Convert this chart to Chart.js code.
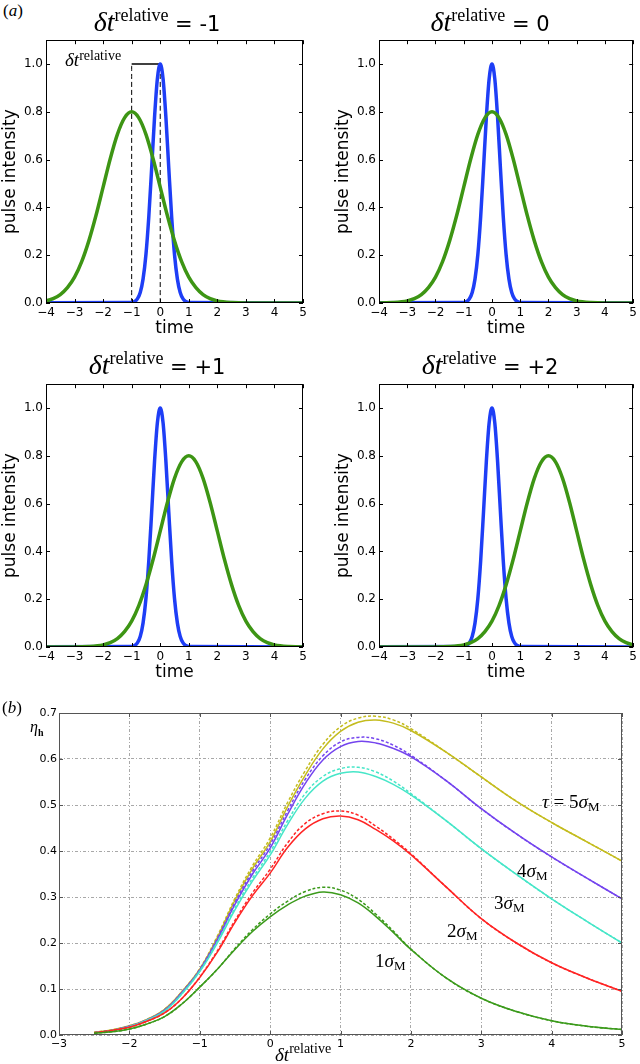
<!DOCTYPE html>
<html>
<head>
<meta charset="utf-8">
<title>Pulse overlap</title>
<script src="https://cdn.jsdelivr.net/npm/chart.js@4.4.1/dist/chart.umd.min.js"></script>
<style>
  html, body { margin: 0; padding: 0; background: #fff; overflow: hidden; }
  #page { position: relative; width: 640px; height: 1064px; }
  #page canvas { position: absolute; }
  .lbl { position: absolute; white-space: nowrap; line-height: 1; color: #000; font-family: "Liberation Serif", serif; }
  .up { position: relative; }
  .sans { font-family: "DejaVu Sans", sans-serif; }
  .ctr { transform: translateX(-50%); }
</style>
</head>
<body>
<div id="page">
  <canvas id="p1" width="320" height="310" style="left:0;top:30px"></canvas>
  <canvas id="p2" width="307" height="310" style="left:333px;top:30px"></canvas>
  <canvas id="p3" width="320" height="310" style="left:0;top:374px"></canvas>
  <canvas id="p4" width="307" height="310" style="left:333px;top:374px"></canvas>
  <canvas id="pb" width="640" height="364" style="left:0;top:700px"></canvas>

  <div class="lbl" style="left:3px;top:2px;font-size:17px">(<i>a</i>)</div>
  <div class="lbl ctr" style="left:157px;top:8px;font-size:28px"><i>δt</i><span class="up" style="font-size:18px;top:-10px">relative</span><span class="sans" style="font-size:21px"> = -1</span></div>
  <div class="lbl ctr" style="left:490px;top:8px;font-size:28px"><i>δt</i><span class="up" style="font-size:18px;top:-10px">relative</span><span class="sans" style="font-size:21px"> = 0</span></div>
  <div class="lbl ctr" style="left:157px;top:351px;font-size:28px"><i>δt</i><span class="up" style="font-size:18px;top:-10px">relative</span><span class="sans" style="font-size:21px"> = +1</span></div>
  <div class="lbl ctr" style="left:490px;top:351px;font-size:28px"><i>δt</i><span class="up" style="font-size:18px;top:-10px">relative</span><span class="sans" style="font-size:21px"> = +2</span></div>
  <div class="lbl" style="left:65px;top:50px;font-size:19px"><i>δt</i><span class="up" style="font-size:14px;top:-6px">relative</span></div>

  <div class="lbl" style="left:2px;top:699px;font-size:17px">(<i>b</i>)</div>
  <div class="lbl" style="left:30px;top:719px;font-size:16px"><i>η</i><span class="up" style="font-size:10px;top:4px;font-weight:bold">h</span></div>
  <div class="lbl" style="left:275px;top:1045px;font-size:19px"><i>δt</i><span class="up" style="font-size:14px;top:-8px">relative</span></div>
  <div class="lbl" style="left:542px;top:792px;font-size:19px"><i>τ</i> = 5<i>σ</i><span class="up" style="font-size:13px;top:3px">M</span></div>
  <div class="lbl" style="left:517px;top:861px;font-size:19px">4<i>σ</i><span class="up" style="font-size:13px;top:3px">M</span></div>
  <div class="lbl" style="left:494px;top:893px;font-size:19px">3<i>σ</i><span class="up" style="font-size:13px;top:3px">M</span></div>
  <div class="lbl" style="left:447px;top:921px;font-size:19px">2<i>σ</i><span class="up" style="font-size:13px;top:3px">M</span></div>
  <div class="lbl" style="left:375px;top:951px;font-size:19px">1<i>σ</i><span class="up" style="font-size:13px;top:3px">M</span></div>
</div>

<script>
const blueCentre = 0;
const greenCentres = [-1, 0, 1, 2];
const blueOffsets = [-6, -1, -0.9, -0.8, -0.7, -0.6, -0.5, -0.4, -0.3, -0.2, -0.1, 0, 0.1, 0.2, 0.3, 0.4, 0.5, 0.6, 0.7, 0.8, 0.9, 1, 6];
const blueValues = [0, 0.002, 0.006, 0.017, 0.044, 0.101, 0.203, 0.361, 0.564, 0.775, 0.938, 1.0, 0.938, 0.775, 0.564, 0.361, 0.203, 0.101, 0.044, 0.017, 0.006, 0.002, 0];
const greenOffsets = [-8, -4, -3.5, -3, -2.75, -2.5, -2.25, -2, -1.75, -1.5, -1.25, -1, -0.75, -0.5, -0.25, 0, 0.25, 0.5, 0.75, 1, 1.25, 1.5, 1.75, 2, 2.25, 2.5, 2.75, 3, 3.5, 4, 8];
const greenValues = [0, 0, 0.002, 0.009, 0.018, 0.035, 0.064, 0.108, 0.173, 0.260, 0.366, 0.485, 0.604, 0.706, 0.775, 0.800, 0.775, 0.706, 0.604, 0.485, 0.366, 0.260, 0.173, 0.108, 0.064, 0.035, 0.018, 0.009, 0.002, 0, 0];
// the delta-t marker in the first panel
const markerX = [-1, 0];
const markerTop = 1.0;

// panel (b): efficiency vs relative delay, solid and dashed for tau = 1..5 sigma_M
const etaX = [-2.5, -2.25, -2, -1.75, -1.5, -1.25, -1, -0.75, -0.5, -0.25, 0, 0.25, 0.5, 0.75, 1, 1.25, 1.5, 1.75, 2, 2.5, 3, 3.5, 4, 4.5, 5];
const eta1Solid  = [0.004, 0.007, 0.013, 0.024, 0.040, 0.068, 0.104, 0.143, 0.186, 0.225, 0.257, 0.283, 0.302, 0.311, 0.305, 0.287, 0.258, 0.223, 0.186, 0.124, 0.080, 0.051, 0.031, 0.019, 0.012];
const eta1Dashed = [0.004, 0.007, 0.013, 0.024, 0.040, 0.068, 0.104, 0.143, 0.188, 0.229, 0.263, 0.291, 0.312, 0.321, 0.315, 0.295, 0.263, 0.226, 0.187, 0.124, 0.080, 0.051, 0.031, 0.019, 0.012];
const eta2Solid  = [0.005, 0.010, 0.017, 0.030, 0.048, 0.080, 0.125, 0.180, 0.245, 0.303, 0.352, 0.408, 0.448, 0.470, 0.476, 0.468, 0.447, 0.422, 0.392, 0.322, 0.253, 0.200, 0.157, 0.124, 0.095];
const eta2Dashed = [0.005, 0.010, 0.017, 0.030, 0.048, 0.080, 0.126, 0.183, 0.249, 0.309, 0.360, 0.418, 0.460, 0.481, 0.487, 0.478, 0.454, 0.426, 0.394, 0.322, 0.253, 0.200, 0.157, 0.124, 0.095];
const eta3Solid  = [0.005, 0.010, 0.018, 0.032, 0.052, 0.090, 0.138, 0.200, 0.272, 0.335, 0.391, 0.458, 0.515, 0.552, 0.569, 0.572, 0.562, 0.545, 0.522, 0.466, 0.405, 0.349, 0.296, 0.247, 0.200];
const eta3Dashed = [0.005, 0.010, 0.018, 0.032, 0.052, 0.090, 0.139, 0.203, 0.276, 0.341, 0.398, 0.466, 0.525, 0.562, 0.579, 0.582, 0.572, 0.552, 0.525, 0.466, 0.405, 0.349, 0.296, 0.247, 0.200];
const eta4Solid  = [0.005, 0.010, 0.019, 0.033, 0.054, 0.093, 0.141, 0.207, 0.284, 0.350, 0.406, 0.480, 0.547, 0.598, 0.627, 0.638, 0.635, 0.623, 0.605, 0.553, 0.492, 0.437, 0.387, 0.341, 0.296];
const eta4Dashed = [0.005, 0.010, 0.019, 0.033, 0.054, 0.093, 0.142, 0.210, 0.288, 0.356, 0.414, 0.488, 0.556, 0.607, 0.637, 0.647, 0.644, 0.630, 0.608, 0.553, 0.492, 0.437, 0.387, 0.341, 0.296];
const eta5Solid  = [0.006, 0.011, 0.020, 0.034, 0.056, 0.095, 0.143, 0.212, 0.293, 0.362, 0.420, 0.497, 0.565, 0.622, 0.660, 0.680, 0.685, 0.678, 0.662, 0.615, 0.561, 0.508, 0.462, 0.420, 0.378];
const eta5Dashed = [0.006, 0.011, 0.020, 0.034, 0.056, 0.095, 0.144, 0.215, 0.297, 0.368, 0.428, 0.506, 0.575, 0.632, 0.670, 0.689, 0.693, 0.685, 0.666, 0.615, 0.561, 0.508, 0.462, 0.420, 0.378];
const tauColors = ['#3b9a1b', '#ff2424', '#46e6c8', '#7444ee', '#c4bc1e'];

const BLUE = '#1e3ef6';
const GREEN = '#3d9514';
const SANS = '"DejaVu Sans", sans-serif';

// frame round the plot area plus inward tick marks on all four sides
const frameTicks = {
  id: 'frameTicks',
  afterDatasetsDraw(chart, args, opts) {
    const { ctx, chartArea: a } = chart;
    const xs = chart.scales.x, ys = chart.scales.y;
    const len = opts.len || 4;
    ctx.save();
    ctx.strokeStyle = opts.color || '#000';
    ctx.lineWidth = 1;
    ctx.beginPath();
    for (const t of xs.ticks) {
      const px = Math.round(xs.getPixelForValue(t.value)) + 0.5;
      ctx.moveTo(px, a.bottom); ctx.lineTo(px, a.bottom - len);
      ctx.moveTo(px, a.top); ctx.lineTo(px, a.top + len);
    }
    for (const t of ys.ticks) {
      const py = Math.round(ys.getPixelForValue(t.value)) + 0.5;
      ctx.moveTo(a.left, py); ctx.lineTo(a.left + len, py);
      ctx.moveTo(a.right, py); ctx.lineTo(a.right - len, py);
    }
    ctx.stroke();
    ctx.strokeRect(Math.round(a.left) + 0.5, Math.round(a.top) + 0.5, Math.round(a.width) - 1, Math.round(a.height) - 1);
    ctx.restore();
  }
};

const minus = v => String(v).replace('-', '\u2212');

function pulseChart(id, greenCentre, rightPad, withMarker) {
  const datasets = [
    {
      data: greenOffsets.map((o, i) => ({ x: o + greenCentre, y: greenValues[i] })),
      borderColor: GREEN, borderWidth: 3.5, order: 1
    },
    {
      data: blueOffsets.map((o, i) => ({ x: o + blueCentre, y: blueValues[i] })),
      borderColor: BLUE, borderWidth: 3.5, order: 2
    }
  ];
  if (withMarker) {
    markerX.forEach(mx => datasets.push({
      data: [{ x: mx, y: 0 }, { x: mx, y: markerTop }],
      borderColor: '#000', borderWidth: 1, borderDash: [5, 3], order: 3
    }));
    datasets.push({
      data: markerX.map(mx => ({ x: mx, y: markerTop })),
      borderColor: '#000', borderWidth: 1.5, order: 3
    });
  }
  new Chart(document.getElementById(id), {
    type: 'line',
    data: { datasets },
    options: {
      responsive: false,
      animation: false,
      layout: { padding: { left: 0, top: 9, right: rightPad, bottom: 0 } },
      elements: {
        point: { radius: 0 },
        line: { cubicInterpolationMode: 'monotone', fill: false }
      },
      plugins: {
        legend: { display: false },
        tooltip: { enabled: false },
        frameTicks: { color: '#000', len: 4 }
      },
      scales: {
        x: {
          type: 'linear', min: -4, max: 5,
          afterFit: s => { s.height = 37; },
          grid: { display: false, drawTicks: false },
          border: { display: false },
          ticks: { stepSize: 1, padding: 3, color: '#000', font: { family: SANS, size: 12 }, callback: minus, maxRotation: 0 },
          title: { display: true, text: 'time', color: '#000', font: { family: SANS, size: 17 }, padding: { top: 0, bottom: 1 } }
        },
        y: {
          min: 0, max: 1.1,
          afterFit: s => { s.width = 46; },
          afterBuildTicks: s => { s.ticks = s.ticks.filter(t => t.value <= 1.0001); },
          grid: { display: false, drawTicks: false },
          border: { display: false },
          ticks: { stepSize: 0.2, padding: 3, color: '#000', font: { family: SANS, size: 12 }, callback: v => v.toFixed(1) },
          title: { display: true, text: 'pulse intensity', color: '#000', font: { family: SANS, size: 17 }, padding: 0 }
        }
      }
    },
    plugins: [frameTicks]
  });
}

pulseChart('p1', greenCentres[0], 17, true);
pulseChart('p2', greenCentres[1], 4, false);
pulseChart('p3', greenCentres[2], 17, false);
pulseChart('p4', greenCentres[3], 4, false);

const etaSolid = [eta1Solid, eta2Solid, eta3Solid, eta4Solid, eta5Solid];
const etaDashed = [eta1Dashed, eta2Dashed, eta3Dashed, eta4Dashed, eta5Dashed];
const etaSets = [];
tauColors.forEach((c, k) => {
  etaSets.push({ data: etaX.map((x, i) => ({ x, y: etaDashed[k][i] })), borderColor: c, borderWidth: 1.5, borderDash: [3, 2] });
  etaSets.push({ data: etaX.map((x, i) => ({ x, y: etaSolid[k][i] })), borderColor: c, borderWidth: 1.5 });
});

new Chart(document.getElementById('pb'), {
  type: 'line',
  data: { datasets: etaSets },
  options: {
    responsive: false,
    animation: false,
    layout: { padding: { left: 0, top: 13, right: 18, bottom: 0 } },
    elements: {
      point: { radius: 0 },
      line: { tension: 0.4, fill: false }
    },
    plugins: {
      legend: { display: false },
      tooltip: { enabled: false },
      frameTicks: { color: '#555', len: 4 }
    },
    scales: {
      x: {
        type: 'linear', min: -3, max: 5,
        afterFit: s => { s.height = 29; },
        grid: { color: '#a8a8a8', lineWidth: 1, drawTicks: false },
        border: { display: false, dash: [3, 2, 1, 2] },
        ticks: { stepSize: 1, padding: 3, color: '#000', font: { family: SANS, size: 11 }, callback: minus, maxRotation: 0 }
      },
      y: {
        min: 0, max: 0.7,
        afterFit: s => { s.width = 59; },
        grid: { color: '#a8a8a8', lineWidth: 1, drawTicks: false },
        border: { display: false, dash: [3, 2, 1, 2] },
        ticks: { stepSize: 0.1, padding: 2, color: '#000', font: { family: SANS, size: 11 }, callback: v => v.toFixed(1) }
      }
    }
  },
  plugins: [frameTicks]
});
</script>
</body>
</html>
